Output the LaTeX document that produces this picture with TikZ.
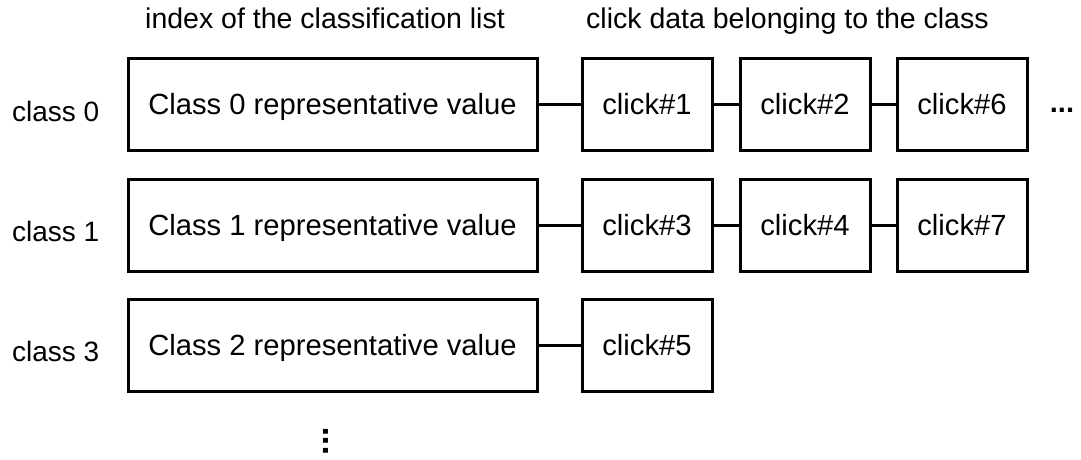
\documentclass[tikz,border=0pt]{standalone}
\usepackage{fontspec}
\setmainfont{Liberation Sans}
\begin{document}
\begin{tikzpicture}[x=1pt,y=-1pt,
  every node/.style={font=\fontsize{28.5}{32}\selectfont},
  boxtext/.style={font=\fontsize{29.2}{33}\selectfont},
  classbox/.style={draw, line width=3pt, minimum width=409pt, minimum height=92pt,
    inner sep=0pt, text height=20pt, text depth=0pt, boxtext},
  clickbox/.style={draw, line width=3pt, minimum width=130pt, minimum height=92pt,
    inner sep=0pt, text height=20pt, text depth=0pt, boxtext},
  link/.style={line width=3pt},
  rowlabel/.style={anchor=base west, inner sep=0pt, font=\fontsize{28}{32}\selectfont},
  heading/.style={anchor=base west, inner sep=0pt},
  ellipsis/.style={inner sep=0pt}
]
% canvas
\fill[white] (0,0) rectangle (1081,459);
\useasboundingbox (0,0) rectangle (1081,459);

% column headings
\node[heading] (h1) at (145,28) {index of the classification list};
\node[heading] (h2) at (586,28) {click data belonging to the class};

% row labels
\node[rowlabel] (l0) at (12,121) {class 0};
\node[rowlabel] (l1) at (12,241) {class 1};
\node[rowlabel] (l2) at (12,361) {class 3};

% row 0
\node[classbox] (c0) at (332.5,104) {Class 0 representative value};
\node[clickbox] (k1) at (647,104) {click\#1};
\node[clickbox] (k2) at (805,104) {click\#2};
\node[clickbox] (k6) at (962,104) {click\#6};
\node[ellipsis, font=\bfseries\fontsize{29}{32}\selectfont] (more) at (1062,110) {...};

% row 1
\node[classbox] (c1) at (332.5,225) {Class 1 representative value};
\node[clickbox] (k3) at (647,225) {click\#3};
\node[clickbox] (k4) at (805,225) {click\#4};
\node[clickbox] (k7) at (962,225) {click\#7};

% row 2
\node[classbox] (c2) at (332.5,345.5) {Class 2 representative value};
\node[clickbox] (k5) at (647,345.5) {click\#5};

% further classes
\node[ellipsis, rotate=90, font=\bfseries\fontsize{34}{40}\selectfont] (vdots) at (326,441) {...};

% list links
\draw[link] (c0) -- (k1);
\draw[link] (k1) -- (k2);
\draw[link] (k2) -- (k6);
\draw[link] (c1) -- (k3);
\draw[link] (k3) -- (k4);
\draw[link] (k4) -- (k7);
\draw[link] (c2) -- (k5);
\end{tikzpicture}
\end{document}
